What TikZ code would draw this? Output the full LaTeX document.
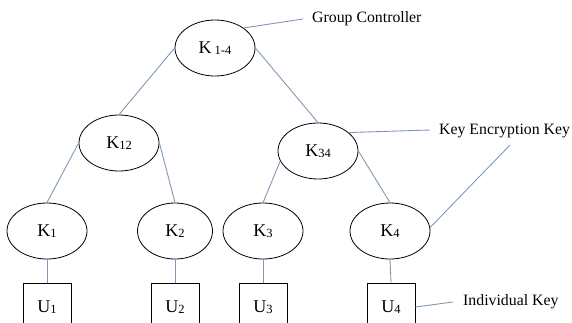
\documentclass[tikz,border=0pt]{standalone}
\usepackage{fontspec}
\setmainfont{Liberation Serif}
\usetikzlibrary{shapes.geometric}
\definecolor{linkc}{RGB}{128,152,182}
\tikzset{
  keynode/.style={ellipse,draw,thick,minimum width=80pt,minimum height=56pt,inner sep=0pt,font=\fontsize{18}{18}\selectfont},
  userbox/.style={rectangle,draw,thick,minimum width=48pt,minimum height=48pt,inner sep=0pt,font=\fontsize{18}{18}\selectfont},
  link/.style={draw=linkc,line width=0.9pt},
  note/.style={anchor=west,inner sep=0pt,font=\fontsize{15.8}{16}\selectfont}
}
\newcommand{\ksub}[1]{{\fontsize{12.5}{12.5}\selectfont\raisebox{-0.5pt}{#1}}}
\begin{document}
\begin{tikzpicture}[x=1pt,y=-1pt]
\useasboundingbox (0,0) rectangle (572,322);
\clip (0,0) rectangle (572,322);
\node[keynode] (K14) at (215,48) {K\,\ksub{1-4}};
\node[keynode] (K12) at (119,143) {K\ksub{12}};
\node[keynode] (K34) at (318,151) {K\ksub{34}};
\node[keynode] (K1) at (47,231) {K\ksub{1}};
\node[keynode,minimum width=75pt] (K2) at (175,231) {K\ksub{2}};
\node[keynode] (K3) at (263,231) {K\ksub{3}};
\node[keynode] (K4) at (390,231) {K\ksub{4}};
\node[userbox] (U1) at (47,307) {U\ksub{1}};
\node[userbox] (U2) at (175,307) {U\ksub{2}};
\node[userbox] (U3) at (263,307) {U\ksub{3}};
\node[userbox] (U4) at (391,307) {U\ksub{4}};
\node[note] (gc) at (312,19) {Group Controller};
\node[note] (kek) at (439,131) {Key Encryption Key};
\node[note] (ik) at (463,302) {Individual Key};
\coordinate (gcend) at (303,19);
\coordinate (kekend) at (430,130);
\coordinate (kekend2) at (510,145);
\coordinate (ikend) at (453,302);
\path[link] (K14.west) -- (K12.north);
\path[link] (K14.east) -- (K34.north);
\path[link] (K12.west) -- (K1.north);
\path[link] (K12.east) -- (K2.north);
\path[link] (K34.195) -- (K3.north);
\path[link] (K34.east) -- (K4.north);
\path[link] (K1.south) -- (U1.north);
\path[link] (K2.south) -- (U2.north);
\path[link] (K3.south) -- (U3.north);
\path[link] (K4.south) -- (U4.north);
\path[link] (K14.35) -- (gcend);
\path[link] (K34.31) -- (kekend);
\path[link] (K4.5) -- (kekend2);
\path[link] (U4.east) -- (ikend);
\end{tikzpicture}
\end{document}
